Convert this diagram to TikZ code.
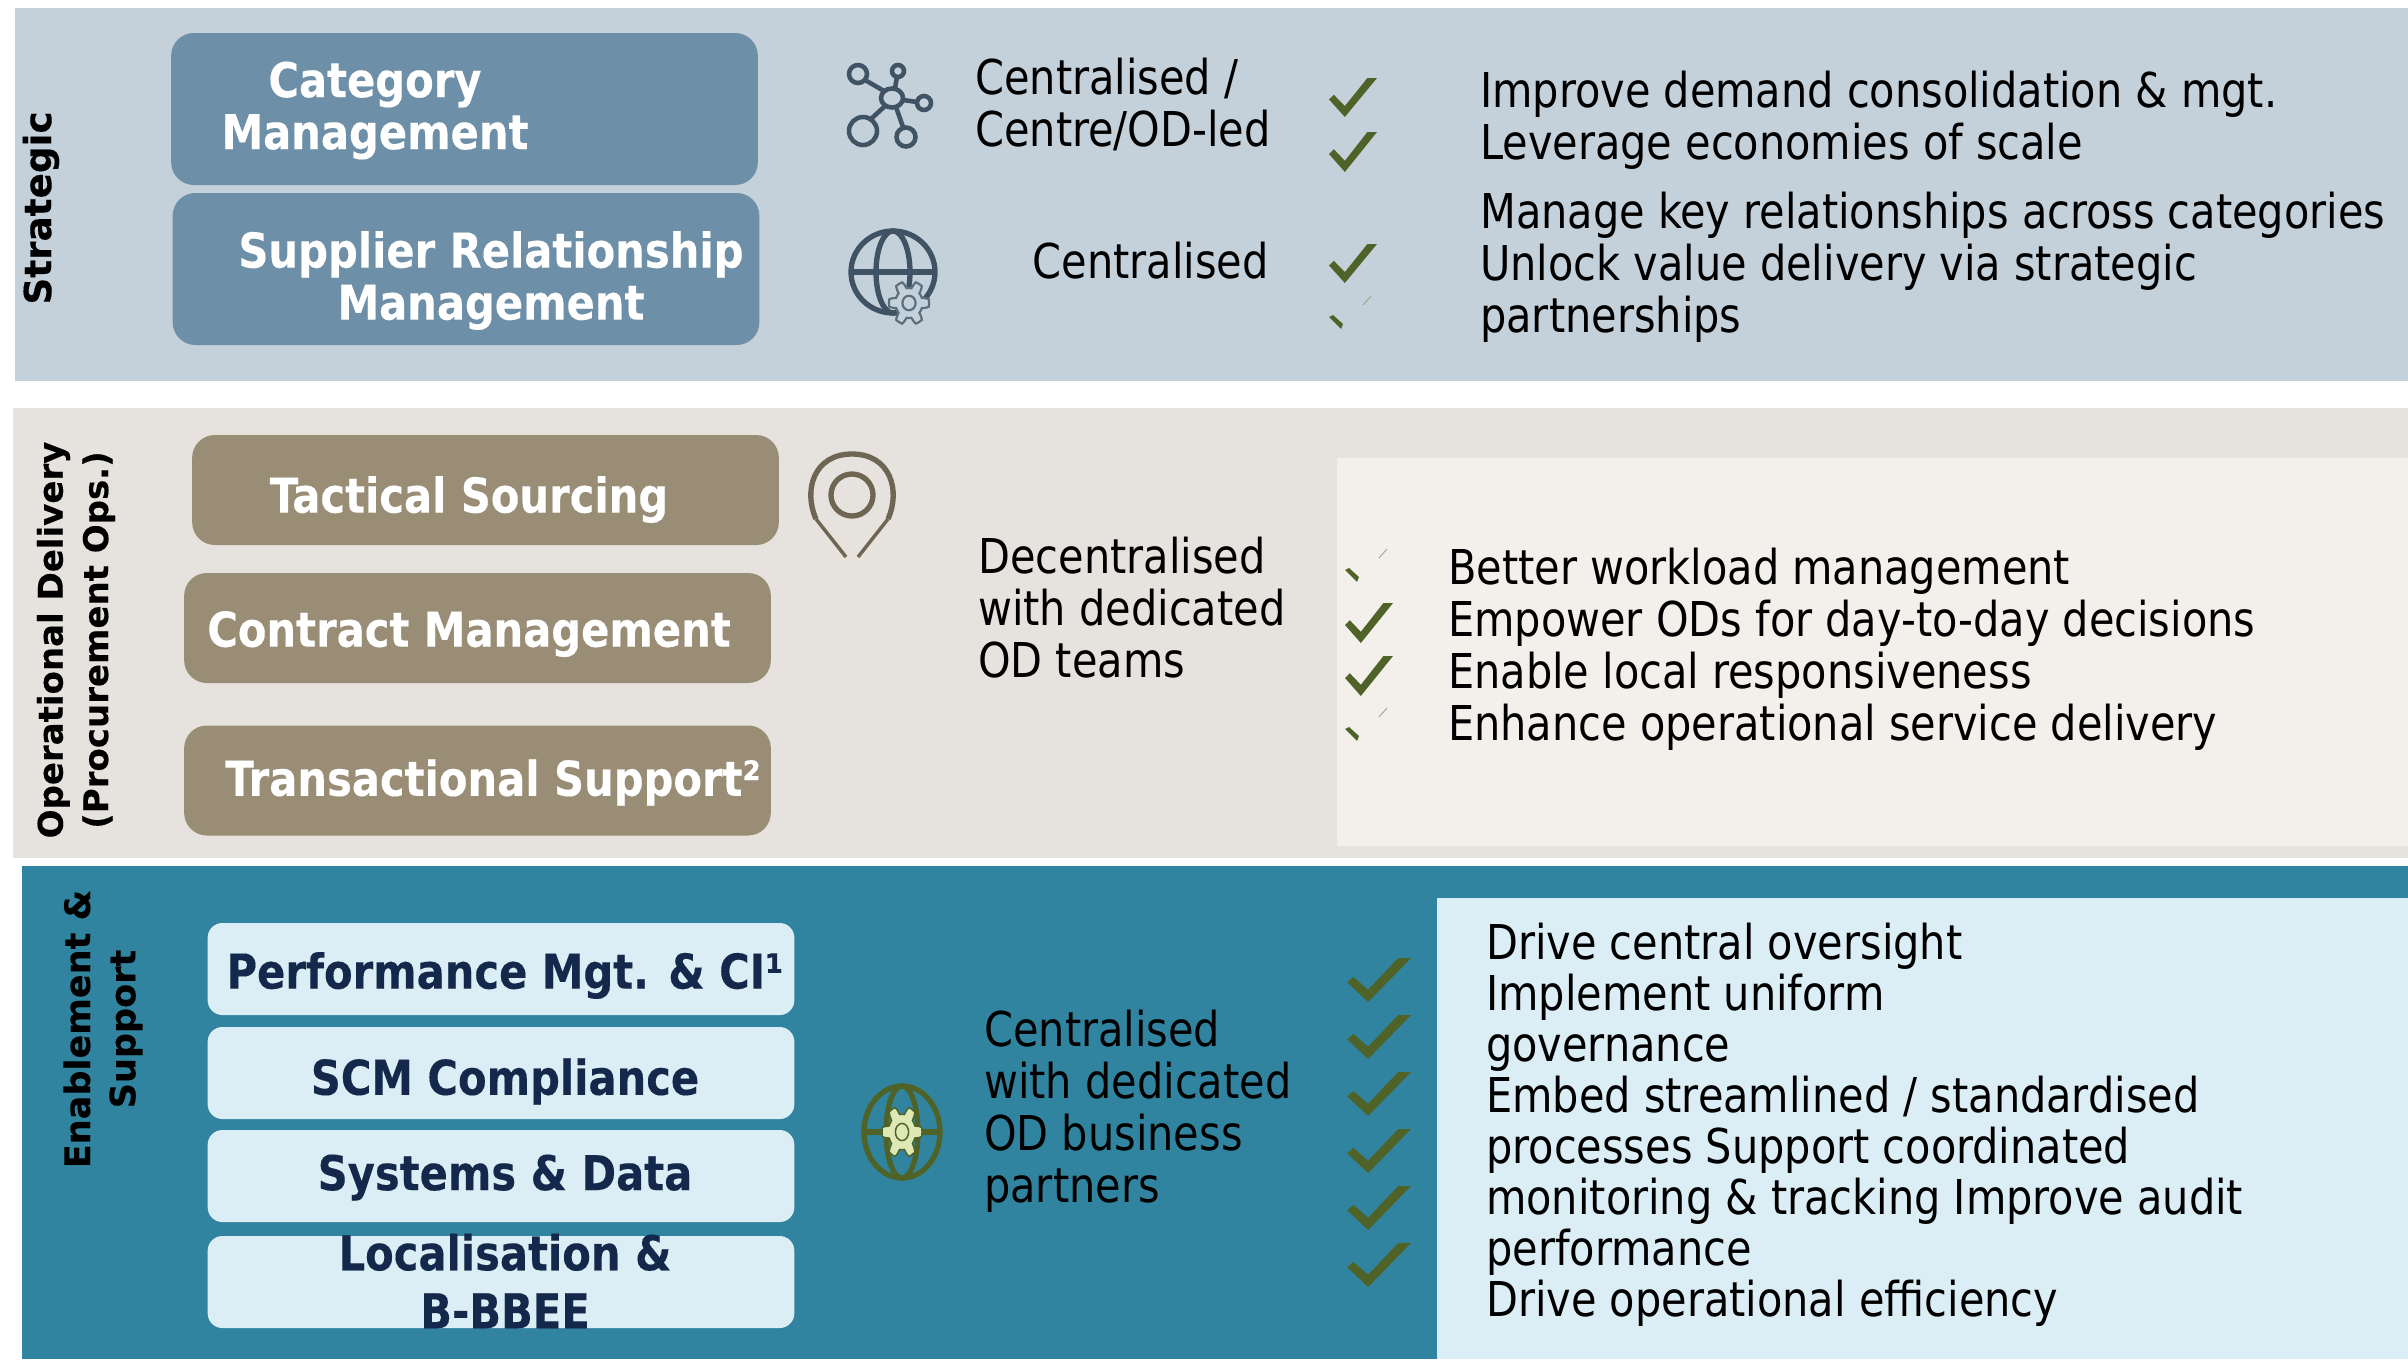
\documentclass[tikz,border=0pt]{standalone}
\usepackage{fontspec}
\setmainfont{DejaVu Sans Condensed}[FakeStretch=0.96,BoldFeatures={FakeStretch=0.965,FakeBold=0.25}]
\newfontfamily\sidef{DejaVu Sans}[BoldFeatures={FakeBold=0.25}]
\definecolor{bandS}{HTML}{C4D1DB}
\definecolor{bandO}{HTML}{E6E3DE}
\definecolor{bandE}{HTML}{31849F}
\definecolor{panelO}{HTML}{F3F0EC}
\definecolor{panelE}{HTML}{DCEEF5}
\definecolor{btnS}{HTML}{6D8FA8}
\definecolor{btnO}{HTML}{9A8D76}
\definecolor{navy}{HTML}{14284B}
\definecolor{chk}{HTML}{4F6228}
\definecolor{iconS}{HTML}{3F5364}
\definecolor{iconO}{HTML}{6E6553}
\definecolor{gearfill}{HTML}{DDE8B5}
\tikzset{
  band/.style={inner sep=0pt,outer sep=0pt,anchor=north west},
  btn/.style={inner sep=0pt,rounded corners=17pt,minimum width=440pt},
  btnS/.style={btn,fill=btnS,minimum height=114pt},
  btnO/.style={btn,fill=btnO,minimum height=82.5pt},
  btnE/.style={btn,fill=panelE,rounded corners=11pt,minimum height=69pt},
  btxt/.style={inner sep=0pt,font=\fontsize{36}{39}\selectfont\bfseries,text=white,align=center},
  etxt/.style={btxt,text=navy},
  body/.style={inner sep=0pt,anchor=west,align=left,font=\fontsize{36}{39}\selectfont,text=black},
  side/.style={inner sep=0pt,rotate=90,align=center,font=\fontsize{25.5}{34}\selectfont\sidef\bfseries,text=black},
}
\newcommand\chkmark[4]{% x0 y0 w h
  \fill[chk] ({#1},{#2+0.55*#4}) -- ({#1+0.1*#3},{#2+0.43*#4}) -- ({#1+0.33*#3},{#2+0.72*#4})
    -- ({#1+0.8*#3},{#2}) -- ({#1+#3},{#2}) -- ({#1+0.33*#3},{#2+#4}) -- cycle;}
\newcommand\partchk[2]{% x0 y0
  \fill[chk] ({#1},{#2+21}) -- ({#1+4},{#2+19}) -- ({#1+14},{#2+28}) -- ({#1+12},{#2+33}) -- cycle;
  \draw[chk!60,line width=0.6pt] ({#1+42},{#2}) -- ({#1+34},{#2+9});}
\tikzset{declare function={gearr(\a)=0.84+0.16*min(1,max(-1,2.5*cos(6*\a)));}}
\newcommand\gearicon[7]{% cx cy rx ry fill draw linewidth
  \draw[draw=#6,fill=#5,line width=#7] plot[smooth cycle,samples=72,domain=0:355,variable=\a]
    ({#1+#3*gearr(\a)*cos(\a)},{#2+#4*gearr(\a)*sin(\a)});
  \draw[#6,line width=#7] (#1,#2) ellipse [x radius=0.33*#3,y radius=0.33*#4];}
\begin{document}
\begin{tikzpicture}[x=0.75pt,y=-0.75pt]
\useasboundingbox (0,0) rectangle (2408,1360);
% bands
\fill[bandS] (15,8) rectangle (2408,381);
\fill[bandO] (13,408) rectangle (2408,858);
\fill[panelO] (1337,458) rectangle (2408,846);
\fill[bandE] (22,866) rectangle (2408,1359);
\fill[panelE] (1437,898) rectangle (2408,1359);
% side labels
\node[side,font=\fontsize{28}{34}\selectfont\sidef\bfseries] (ls) at (41,208) {Strategic};
\node[side] (lo) at (76,640) {Operational Delivery\\(Procurement Ops.)};
\node[side,font=\fontsize{26.3}{34}\selectfont\sidef\bfseries] (le) at (103,1029) {Enablement \&\\Support};
% buttons
\node[btnS] (b1) at (464.5,109) {};
\node[btnS] (b2) at (466,269) {};
\node[btnO] (b3) at (485.5,490) {};
\node[btnO] (b4) at (477.5,628) {};
\node[btnO] (b5) at (477.5,780.5) {};
\node[btnE] (b6) at (501,969) {};
\node[btnE] (b7) at (501,1073) {};
\node[btnE] (b8) at (501,1176) {};
\node[btnE] (b9) at (501,1282) {};
% button text
\node[btxt] (t1) at (375,110.5) {Category\\Management};
\node[btxt] (t2) at (491,280.5) {Supplier Relationship\\Management};
\node[btxt] (t3) at (469,499.5) {Tactical Sourcing};
\node[btxt] (t4) at (469,634) {Contract Management};
\node[btxt] (t5) at (493,782.5) {Transactional Support²};
\node[etxt] (t6) at (505,975.5) {Performance Mgt. \& CI¹};
\node[etxt] (t7) at (505,1081.5) {SCM Compliance};
\node[etxt] (t8) at (505,1177.5) {Systems \& Data};
\node[etxt,font=\fontsize{36}{43.5}\selectfont\bfseries] (t9) at (505,1281) {Localisation \&\\B-BBEE};
% centre text
\node[body] (m1) at (975,104.5) {Centralised /\\Centre/OD-led};
\node[body,anchor=east] (m2) at (1269,261) {Centralised};
\node[body] (m3) at (978,608) {Decentralised\\with dedicated\\OD teams};
\node[body] (m4) at (984,1111) {Centralised\\with dedicated\\OD business\\partners};
% right text
\node[body] (r1) at (1480,120.5) {Improve demand consolidation \& mgt.\\Leverage economies of scale};
\node[body] (r2) at (1480,267) {Manage key relationships across categories\\Unlock value delivery via strategic\\partnerships};
\node[body] (r3) at (1448,649) {Better workload management\\Empower ODs for day-to-day decisions\\Enable local responsiveness\\Enhance operational service delivery};
\node[body,font=\fontsize{36}{38.2}\selectfont] (r4) at (1486,1124.5) {Drive central oversight\\Implement uniform\\governance\\Embed streamlined / standardised\\processes Support coordinated\\monitoring \& tracking Improve audit\\performance\\Drive operational efficiency};
% checks
\chkmark{1329}{78}{48}{39}
\chkmark{1329}{132}{48}{40}
\chkmark{1329}{244}{48}{39}
\partchk{1329}{296}
\partchk{1345}{549}
\chkmark{1345}{603}{48}{40}
\chkmark{1345}{656}{48}{40}
\partchk{1345}{708}
\foreach \yy in {958,1015,1072,1129,1186,1243}{\chkmark{1347}{\yy}{64}{44}}
% network icon
\begin{scope}[iconS,line width=3.4pt]
\draw (892,98) ellipse [x radius=11,y radius=9.5];
\draw (858,74) circle (9);
\draw (898,71) circle (6);
\draw (924,103) circle (7);
\draw (863,131) circle (14);
\draw (906,137) circle (9.5);
\draw (884,91) -- (865,80);
\draw (895,88) -- (897,77);
\draw (903,100) -- (917,102);
\draw (885,106) -- (871,119);
\draw (896,107) -- (903,127);
\end{scope}
% globe with gear
\begin{scope}[iconS,line width=4pt]
\draw (893,272) ellipse [x radius=42,y radius=41];
\draw (893,272) ellipse [x radius=17,y radius=41];
\draw (851,272) -- (935,272);
\end{scope}
\gearicon{909}{303}{20}{22}{bandS}{iconS!85}{1.6pt}
% pin
\draw[iconO,line width=4pt] (816,519) .. controls (803,490) and (814,454) .. (852,454) .. controls (890,454) and (901,490) .. (888,519);
\draw[iconO,line width=2.6pt] (816,519) -- (846,557);
\draw[iconO,line width=2.6pt] (888,519) -- (858,557);
\draw[iconO,line width=4pt] (852,495) circle (21);
% green globe
\begin{scope}[chk,line width=4pt]
\draw (902,1132) ellipse [x radius=38,y radius=46];
\draw (902,1132) ellipse [x radius=16,y radius=46];
\draw (864,1132) -- (940,1132);
\end{scope}
\gearicon{902}{1132}{20}{26}{gearfill}{chk}{1.1pt}
\end{tikzpicture}
\end{document}
